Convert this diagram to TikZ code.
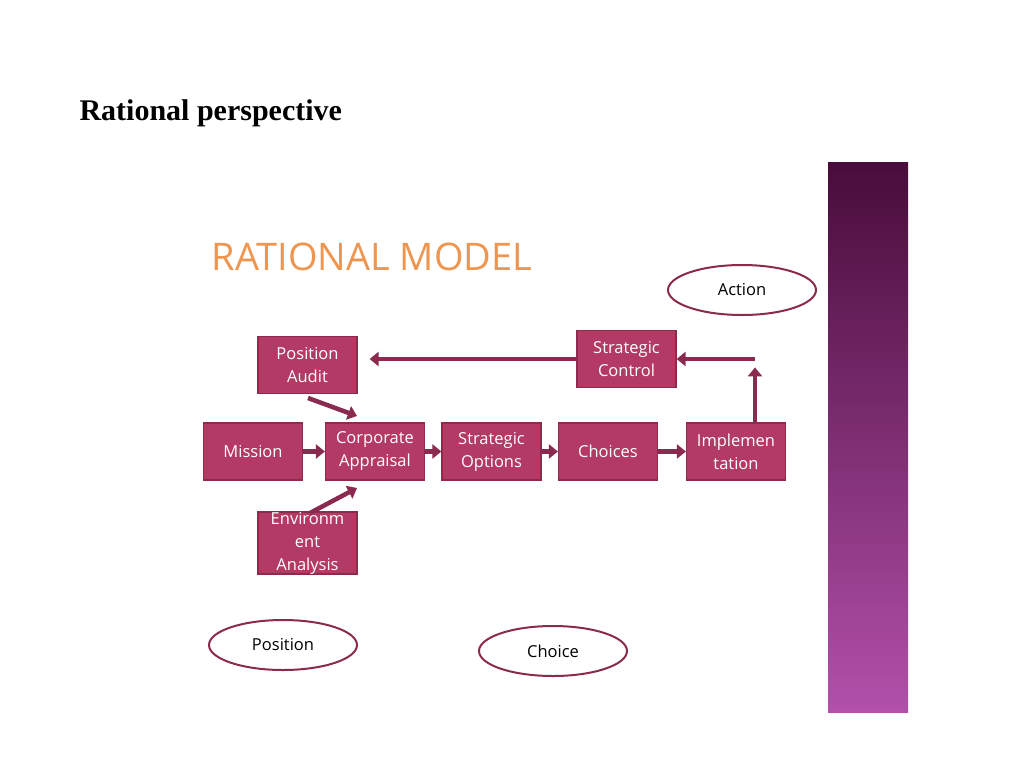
\documentclass[tikz,border=0pt]{standalone}
\usepackage{fontspec}
\setmainfont{Liberation Serif}
\setsansfont{Open Sans}
\usetikzlibrary{arrows.meta,positioning,shapes.geometric}
\definecolor{boxred}{HTML}{B23A64}
\definecolor{boxedge}{HTML}{8E2A4C}
\definecolor{arrowred}{HTML}{8A2A4E}
\begin{document}
\begin{tikzpicture}[x=1pt,y=-1pt,
  box/.style = {draw=boxedge,line width=1.2pt,fill=boxred,text=white,minimum width=99pt,minimum height=57pt,inner sep=0pt,align=center,font=\sffamily\fontsize{16.5}{23}\selectfont},
  oval/.style = {draw=arrowred,line width=2pt,ellipse,fill=white,minimum width=148pt,minimum height=50pt,font=\sffamily\fontsize{16.5}{20}\selectfont},
  link/.style = {draw=arrowred,line width=4.5pt,-{Triangle[length=9pt,width=14pt]}}]
  \useasboundingbox (0,0) rectangle (1024,768);
  % side bar
  \shade[top color={rgb,255:red,72;green,12;blue,58},bottom color={rgb,255:red,178;green,80;blue,170}] (828,162) rectangle (908,712);
  \node[anchor=west,font=\bfseries\fontsize{30}{34}\selectfont] (head) at (76,113) {Rational perspective};
  \node[anchor=west,font=\sffamily\fontsize{38}{42}\selectfont,text={rgb,255:red,238;green,150;blue,80}] (title) at (208,257) {RATIONAL MODEL};
  % boxes
  \node[box] (audit) at (307.5,365) {Position\\Audit};
  \node[box] (mission) at (253,451.5) {Mission};
  \node[box] (corp) at (375,451.5) {Corporate\\Appraisal};
  \node[box] (opts) at (491.5,451.5) {Strategic\\Options};
  \node[box] (choices) at (608,451.5) {Choices};
  \node[box] (impl) at (736,451.5) {Implemen\\tation};
  \node[box] (control) at (626.5,359) {Strategic\\Control};
  \node[box,minimum height=58pt] (env) at (307.5,543) {Environm\\ent\\Analysis};
  % ovals
  \node[oval] (action) at (742,290) {Action};
  \node[oval] (position) at (283,645) {Position};
  \node[oval] (choice) at (553,651) {Choice};
  % connectors
  \coordinate (turn) at (755,359);
  \coordinate (auditin) at (357,416);
  \coordinate (envin) at (357,488);
  \coordinate (auditout) at (308,398);
  \coordinate (envout) at (310,513);
  \draw[link] (mission) -- (corp);
  \draw[link] (corp) -- (opts);
  \draw[link] (opts) -- (choices);
  \draw[link] (choices) -- (impl);
  \draw[link] (impl.north -| turn) -- ++(0,-55);
  \draw[link] (turn) -- (control);
  \draw[link] (control.west) -- ([xshift=12pt]audit.east |- control.west);
  \draw[link] (auditout) -- (auditin);
  \draw[link] (envout) -- (envin);
\end{tikzpicture}
\end{document}
